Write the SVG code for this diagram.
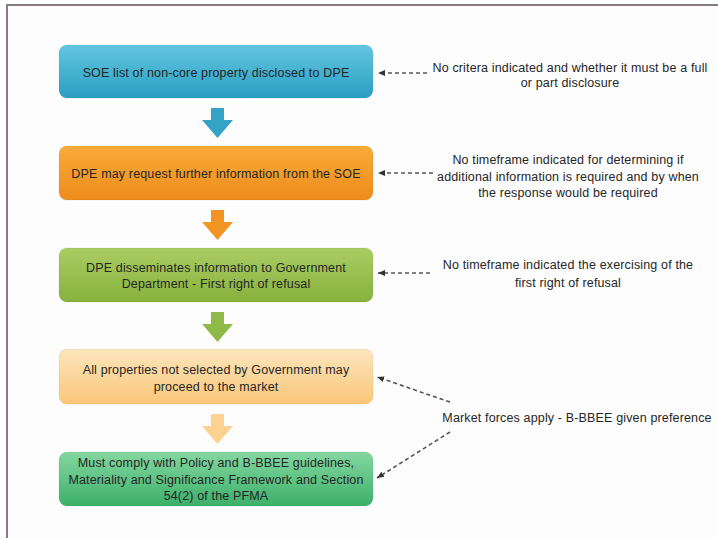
<svg xmlns="http://www.w3.org/2000/svg" width="718" height="538" viewBox="0 0 718 538">
<defs>
<linearGradient id="gBlue" x1="0" y1="0" x2="0" y2="1"><stop offset="0" stop-color="#62c6e0"/><stop offset="1" stop-color="#2a9fc2"/></linearGradient>
<linearGradient id="gOrange" x1="0" y1="0" x2="0" y2="1"><stop offset="0" stop-color="#f8ab3a"/><stop offset="1" stop-color="#ee8c1c"/></linearGradient>
<linearGradient id="gGreen" x1="0" y1="0" x2="0" y2="1"><stop offset="0" stop-color="#aacd62"/><stop offset="1" stop-color="#86b23d"/></linearGradient>
<linearGradient id="gPeach" x1="0" y1="0" x2="0" y2="1"><stop offset="0" stop-color="#fde6bd"/><stop offset="1" stop-color="#f9c677"/></linearGradient>
<linearGradient id="gMint" x1="0" y1="0" x2="0" y2="1"><stop offset="0" stop-color="#84d7a0"/><stop offset="1" stop-color="#3cb06a"/></linearGradient>
<marker id="ah" markerWidth="8" markerHeight="8" refX="7" refY="4" orient="auto" markerUnits="userSpaceOnUse">
<path d="M0,1 L7,4 L0,7 Z" fill="#333"/>
</marker>
</defs>
<style>
.box{stroke:#000;stroke-opacity:0.06;stroke-width:1}
.t{font-family:"Liberation Sans",Arial,sans-serif;font-size:12.5px;letter-spacing:0.15px;fill:#262626;text-anchor:middle}
.dash{stroke:#555;stroke-width:1.6;stroke-dasharray:4,3;fill:none}
</style>
<rect x="0" y="0" width="718" height="538" fill="#fdfdfd"/>
<path d="M7,540 L7,5 L720,5" fill="none" stroke="#857a86" stroke-width="2"/>

<g id="node1">
<rect class="box" x="59" y="45" width="314" height="53" rx="8" fill="url(#gBlue)"/>
<text class="t" x="216" y="77">SOE list of non-core property disclosed to DPE</text>
</g>
<g id="node2">
<rect class="box" x="59" y="146" width="314" height="54" rx="8" fill="url(#gOrange)"/>
<text class="t" x="216" y="178">DPE may request further information from the SOE</text>
</g>
<g id="node3">
<rect class="box" x="59" y="248" width="314" height="54" rx="8" fill="url(#gGreen)"/>
<text class="t" x="216" y="272">DPE disseminates information to Government</text>
<text class="t" x="216" y="288">Department - First right of refusal</text>
</g>
<g id="node4">
<rect class="box" x="59" y="349" width="314" height="55" rx="8" fill="url(#gPeach)"/>
<text class="t" x="216" y="374">All properties not selected by Government may</text>
<text class="t" x="216" y="391">proceed to the market</text>
</g>
<g id="node5">
<rect class="box" x="59" y="452" width="314" height="54" rx="8" fill="url(#gMint)"/>
<text class="t" x="216" y="467">Must comply with Policy and B-BBEE guidelines,</text>
<text class="t" x="216" y="484">Materiality and Significance Framework and Section</text>
<text class="t" x="216" y="500">54(2) of the PFMA</text>
</g>

<g id="note1">
<text class="t" x="570" y="72">No critera indicated and whether it must be a full</text>
<text class="t" x="570" y="87">or part disclosure</text>
</g>
<g id="note2">
<text class="t" x="568" y="164">No timeframe indicated for determining if</text>
<text class="t" x="568" y="181">additional information is required and by when</text>
<text class="t" x="568" y="197">the response would be required</text>
</g>
<g id="note3">
<text class="t" x="568" y="269">No timeframe indicated the exercising of the</text>
<text class="t" x="568" y="287">first right of refusal</text>
</g>
<g id="note4">
<text class="t" x="577" y="422">Market forces apply - B-BBEE given preference</text>
</g>

<g id="connectors">
<path d="M211,108 H224 V120 H233 L217.5,138 L202,120 H211 Z" fill="#35a3c6"/>
<path d="M211,210 H224 V222 H233 L217.5,240 L202,222 H211 Z" fill="#f29424"/>
<path d="M211,312 H224 V324 H233 L217.5,342 L202,324 H211 Z" fill="#8fba47"/>
<path d="M211,414 H224 V426 H233 L217.5,444 L202,426 H211 Z" fill="#fcd293"/>
<line class="dash" x1="427" y1="73" x2="378" y2="73" marker-end="url(#ah)"/>
<line class="dash" x1="433" y1="173" x2="378" y2="173" marker-end="url(#ah)"/>
<line class="dash" x1="430" y1="273" x2="378" y2="273" marker-end="url(#ah)"/>
<line class="dash" x1="450" y1="402" x2="377" y2="377" marker-end="url(#ah)"/>
<line class="dash" x1="450" y1="432" x2="377" y2="478" marker-end="url(#ah)"/>
</g>
</svg>
